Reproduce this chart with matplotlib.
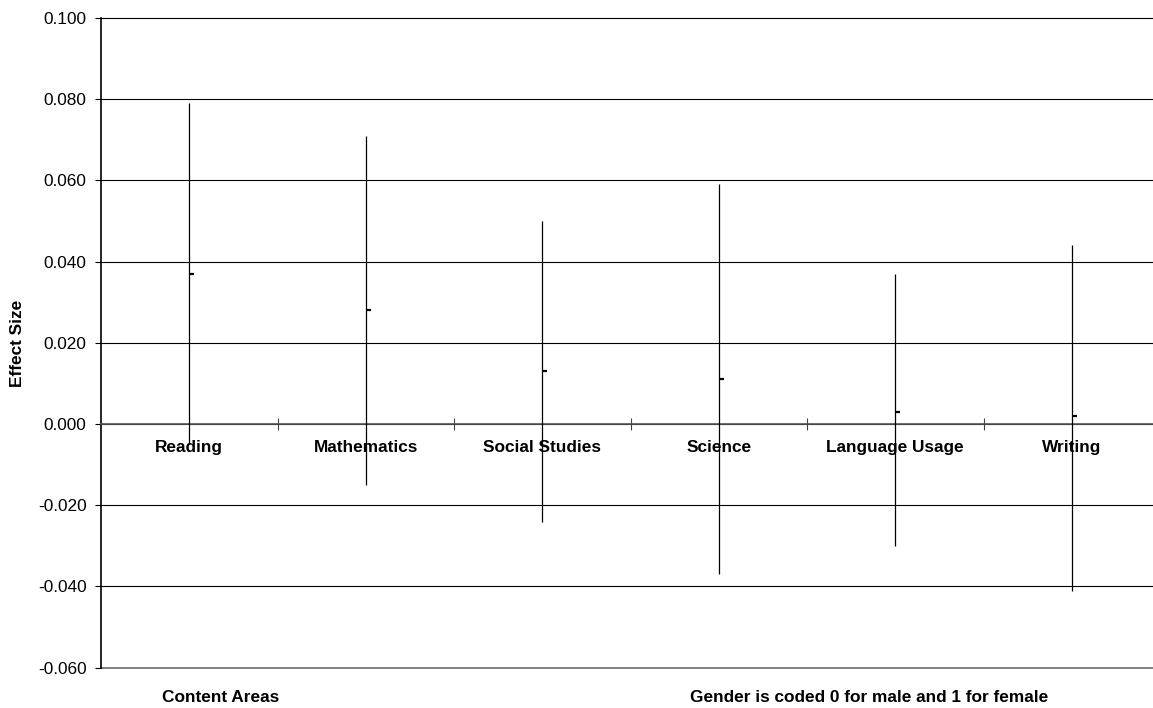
import matplotlib
matplotlib.use("Agg")
import matplotlib.pyplot as plt
from matplotlib.markers import TICKRIGHT
import numpy as np

plt.rcParams['font.family'] = ['Liberation Sans', 'DejaVu Sans']

# Effect sizes by content area: upper bound, lower bound and point estimate
areas = ["Reading", "Mathematics", "Social Studies", "Science", "Language Usage", "Writing"]
upper = [0.079, 0.071, 0.050, 0.059, 0.037, 0.044]
lower = [-0.005, -0.015, -0.024, -0.037, -0.030, -0.041]
estimate = [0.037, 0.028, 0.013, 0.011, 0.003, 0.002]
y_ticks = [-0.060, -0.040, -0.020, 0.000, 0.020, 0.040, 0.060, 0.080, 0.100]

fig = plt.figure(figsize=(11.53, 7.08), dpi=100)
ax = fig.add_axes([101 / 1153, 1 - 667.7 / 708, (1160 - 101) / 1153, (667.7 - 18) / 708])

x = np.arange(len(areas)) + 0.5
ax.vlines(x, lower, upper, color="black", linewidth=0.9, zorder=3)
ax.plot(x, estimate, linestyle="none", marker=TICKRIGHT, markersize=3.5,
        markeredgewidth=1.6, color="black", zorder=4)

ax.set_xlim(0, len(areas))
ax.set_ylim(-0.060, 0.100)
ax.set_yticks(y_ticks)
ax.set_yticklabels([f"{v:.3f}" for v in y_ticks], fontsize=12.4)
ax.yaxis.grid(True, color="black", linewidth=0.8)
ax.set_axisbelow(True)
ax.tick_params(axis="y", direction="out", length=4, width=0.8, pad=6.5)
for gl in ax.get_ygridlines():
    gl.set_clip_on(False)
ax.get_ygridlines()[0].set_color("#777777")
ax.get_ygridlines()[0].set_linewidth(1.3)

# Category axis crosses at zero
ax.spines["bottom"].set_position(("data", 0))
ax.spines["bottom"].set_color("#555555")
ax.spines["bottom"].set_linewidth(1.2)
ax.spines["top"].set_visible(False)
ax.spines["right"].set_visible(False)
ax.spines["left"].set_linewidth(1.2)
ax.set_xticks(np.arange(1, len(areas)))
ax.set_xticklabels([])
ax.tick_params(axis="x", which="major", direction="inout", length=9, width=0.8, color="#444444")
ax.set_xticks(x, minor=True)
ax.set_xticklabels(areas, minor=True, fontsize=12.4, fontweight="bold")
ax.tick_params(axis="x", which="minor", length=0, pad=11.5)

fig.text(18 / 1153, 1 - 343 / 708, "Effect Size", rotation=90, fontsize=12.4,
         fontweight="bold", ha="center", va="center")
fig.text(221 / 1153, 1 - 698 / 708, "Content Areas", fontsize=12.4,
         fontweight="bold", ha="center", va="center")
fig.text(869 / 1153, 1 - 698 / 708, "Gender is coded 0 for male and 1 for female",
         fontsize=12.4, fontweight="bold", ha="center", va="center")

fig.savefig("out.png", dpi=100)
